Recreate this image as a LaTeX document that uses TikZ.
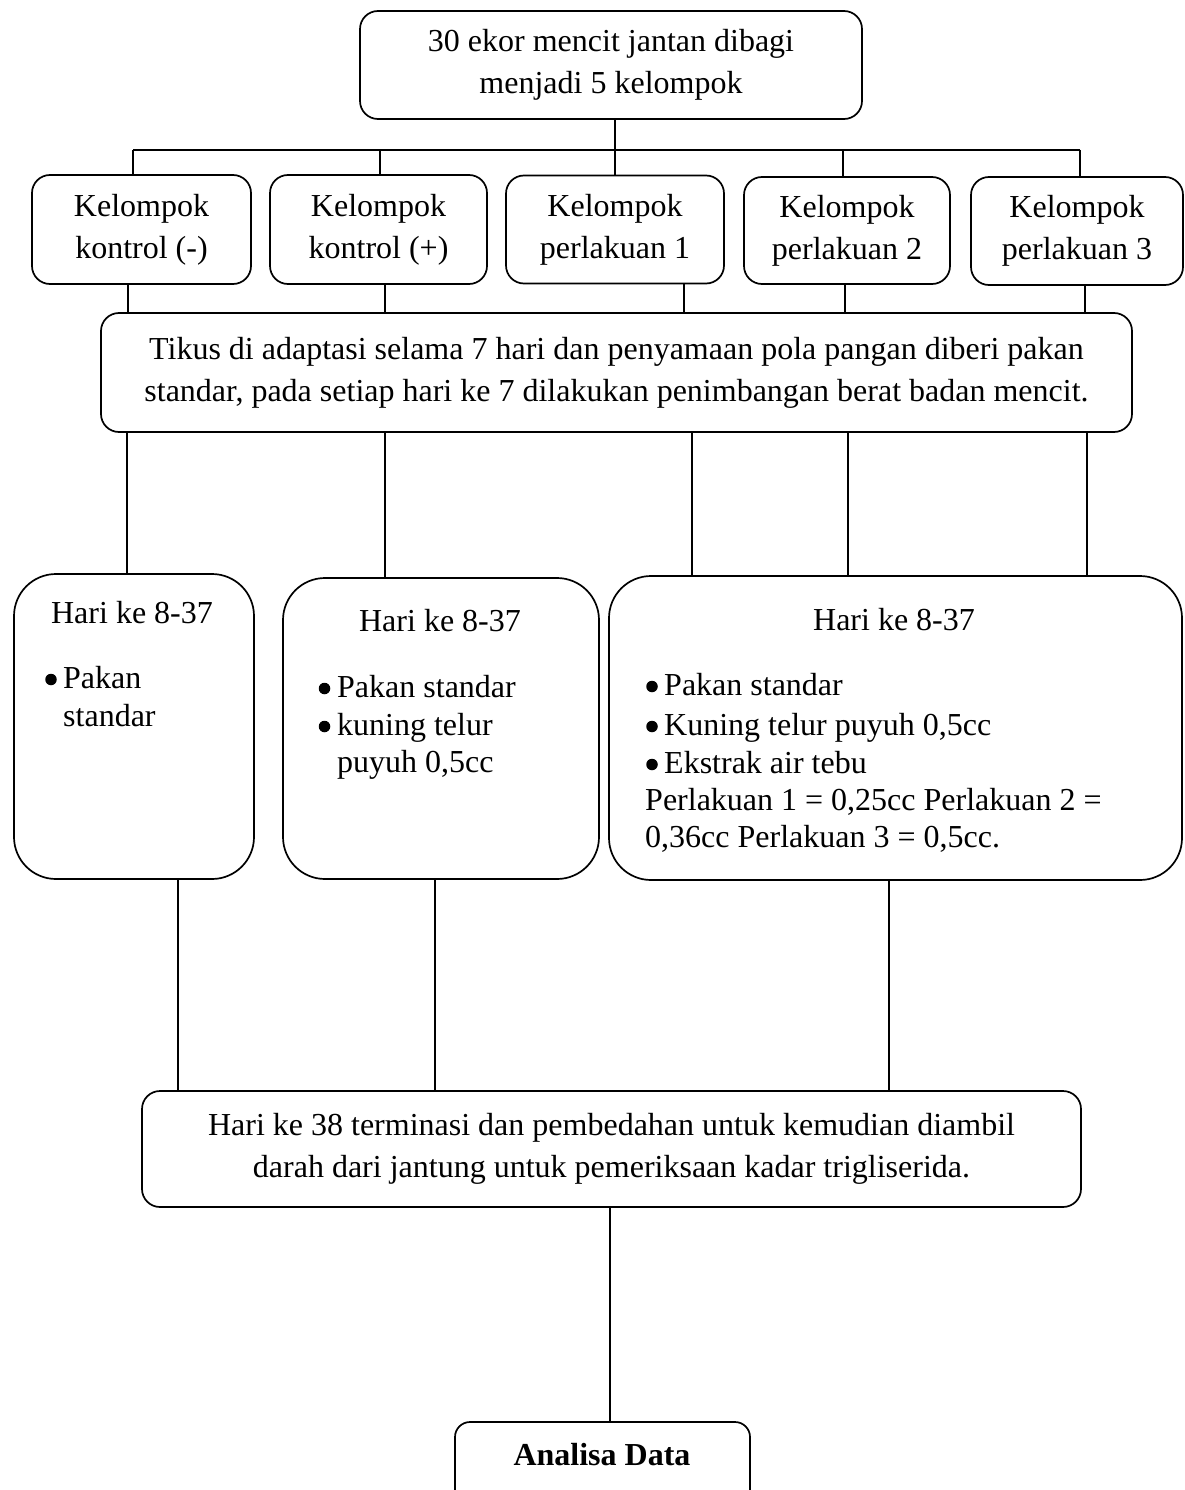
\documentclass[tikz,border=0pt]{standalone}
\usepackage{fontspec}
\setmainfont{Liberation Serif}
\newcommand\myfs{\fontsize{32}{42}\selectfont}
\begin{document}
\begin{tikzpicture}[x=1pt,y=-1pt,
  boxs/.style={draw, line width=1.7pt, rounded corners=18pt, inner sep=0pt, align=center, font=\myfs},
  bigr/.style={boxs, rounded corners=42pt},
  conn/.style={line width=1.3pt},
  txt/.style={font=\myfs, inner sep=0pt},
  bulletdot/.style={circle, fill=black, inner sep=0pt, minimum size=11.5pt}]
\useasboundingbox (0,0) rectangle (1184,1490);
% top
\node[boxs, minimum width=502pt, minimum height=108pt] (top) at (611,65) {30 ekor mencit jantan dibagi\\menjadi 5 kelompok};
% groups
\node[boxs, minimum width=219pt, minimum height=109pt] (k1) at (141.5,229.5) {Kelompok\\kontrol (-)};
\node[boxs, minimum width=217pt, minimum height=109pt] (k2) at (378.5,229.5) {Kelompok\\kontrol (+)};
\node[boxs, minimum width=218pt, minimum height=108pt] (k3) at (615,229.5) {Kelompok\\perlakuan 1};
\node[boxs, minimum width=206pt, minimum height=107pt] (k4) at (847,230.5) {Kelompok\\perlakuan 2};
\node[boxs, minimum width=212pt, minimum height=108pt] (k5) at (1077,231) {Kelompok\\perlakuan 3};
% adaptation
\node[boxs, minimum width=1031pt, minimum height=119pt] (ad) at (616.5,372.5) {Tikus di adaptasi selama 7 hari dan penyamaan pola pangan diberi pakan\\standar, pada setiap hari ke 7 dilakukan penimbangan berat badan mencit.};
% treatment boxes
\node[bigr, minimum width=240pt, minimum height=305pt] (ta) at (134,726.5) {};
\node[bigr, minimum width=316pt, minimum height=301pt] (tb) at (441,728.5) {};
\node[bigr, minimum width=573pt, minimum height=304pt] (tc) at (895.5,728) {};
% box A text
\node[txt, anchor=base] (a0) at (132,623) {Hari ke 8-37};
\node[bulletdot] (a1b) at (51,679.5) {};
\node[txt, anchor=base west] (a1) at (63,688) {Pakan};
\node[txt, anchor=base west] (a2) at (63,726) {standar};
% box B text
\node[txt, anchor=base] (b0) at (440,631) {Hari ke 8-37};
\node[bulletdot] (b1b) at (324.5,688.5) {};
\node[txt, anchor=base west] (b1) at (337,697) {Pakan standar};
\node[bulletdot] (b2b) at (324.5,726.5) {};
\node[txt, anchor=base west] (b2) at (337,735) {kuning telur};
\node[txt, anchor=base west] (b3) at (337,772) {puyuh 0,5cc};
% box C text
\node[txt, anchor=base] (c0) at (894,630) {Hari ke 8-37};
\node[bulletdot] (c1b) at (652,686.5) {};
\node[txt, anchor=base west] (c1) at (664,695) {Pakan standar};
\node[bulletdot] (c2b) at (652,726.5) {};
\node[txt, anchor=base west] (c2) at (664,735) {Kuning telur puyuh 0,5cc};
\node[bulletdot] (c3b) at (652,764.5) {};
\node[txt, anchor=base west] (c3) at (664,773) {Ekstrak air tebu};
\node[txt, anchor=base west] (c4) at (645,810) {Perlakuan 1 = 0,25cc Perlakuan 2 =};
\node[txt, anchor=base west] (c5) at (645,847) {0,36cc Perlakuan 3 = 0,5cc.};
% final
\node[boxs, minimum width=939pt, minimum height=116pt] (fin) at (611.5,1149) {Hari ke 38 terminasi dan pembedahan untuk kemudian diambil\\darah dari jantung untuk pemeriksaan kadar trigliserida.};
\node[boxs, rounded corners=15pt, minimum width=295pt, minimum height=90pt] (an) at (602.5,1467) {};
\node[txt, anchor=base, font=\myfs\bfseries] (ant) at (602,1465) {Analisa Data};
% connectors: top to groups
\coordinate (bus) at (615,150);
\coordinate (bL) at (133,150);
\coordinate (b2) at (380,150);
\coordinate (b4) at (843,150);
\coordinate (bR) at (1080,150);
\draw[conn] (bus |- top.south) -- (bus);
\draw[conn] (bL) -- (bR);
\draw[conn] (bL) -- (bL |- k1.north);
\draw[conn] (b2) -- (b2 |- k2.north);
\draw[conn] (bus) -- (bus |- k3.north);
\draw[conn] (b4) -- (b4 |- k4.north);
\draw[conn] (bR) -- (bR |- k5.north);
% groups to adaptation
\coordinate (x1) at (128,0);
\coordinate (x2) at (385,0);
\coordinate (x3) at (684,0);
\coordinate (x4) at (845,0);
\coordinate (x5) at (1085,0);
\draw[conn] (x1 |- k1.south) -- (x1 |- ad.north);
\draw[conn] (x2 |- k2.south) -- (x2 |- ad.north);
\draw[conn] (x3 |- k3.south) -- (x3 |- ad.north);
\draw[conn] (x4 |- k4.south) -- (x4 |- ad.north);
\draw[conn] (x5 |- k5.south) -- (x5 |- ad.north);
% adaptation to treatments
\coordinate (y1) at (127,0);
\coordinate (y2) at (385,0);
\coordinate (y3) at (692,0);
\coordinate (y4) at (848,0);
\coordinate (y5) at (1087,0);
\draw[conn] (y1 |- ad.south) -- (y1 |- ta.north);
\draw[conn] (y2 |- ad.south) -- (y2 |- tb.north);
\draw[conn] (y3 |- ad.south) -- (y3 |- tc.north);
\draw[conn] (y4 |- ad.south) -- (y4 |- tc.north);
\draw[conn] (y5 |- ad.south) -- (y5 |- tc.north);
% treatments to final
\coordinate (z1) at (178,0);
\coordinate (z2) at (435,0);
\coordinate (z3) at (889,0);
\draw[conn] (z1 |- ta.south) -- (z1 |- fin.north);
\draw[conn] (z2 |- tb.south) -- (z2 |- fin.north);
\draw[conn] (z3 |- tc.south) -- (z3 |- fin.north);
% final to analysis
\coordinate (w) at (610,0);
\draw[conn] (w |- fin.south) -- (w |- an.north);
\end{tikzpicture}
\end{document}
